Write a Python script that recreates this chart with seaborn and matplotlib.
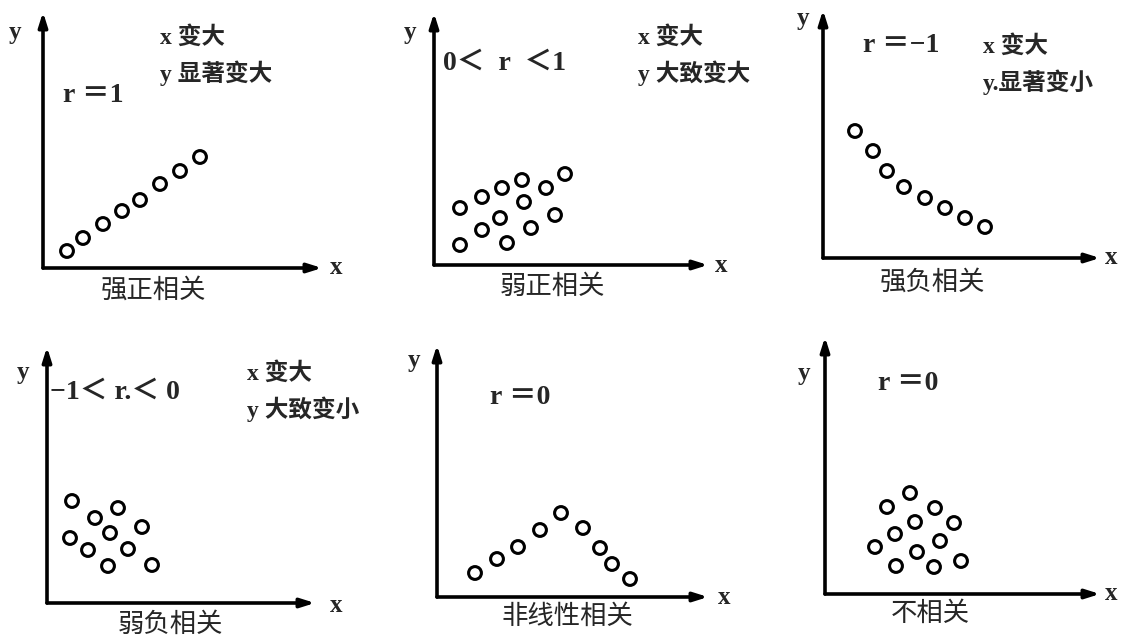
import matplotlib
matplotlib.use("Agg")
import matplotlib.pyplot as plt
import seaborn as sns

W, H = 1126, 638

# point positions (units: px from the origin)
strong_pos_x = [24, 40, 60, 79, 97, 117, 137, 157]
strong_pos_y = [17, 30, 44, 57, 68, 84, 97, 111]

weak_pos_x = [26, 48, 73, 66, 97, 121, 26, 48, 68, 88, 112, 131, 90]
weak_pos_y = [20, 35, 22, 47, 37, 50, 57, 68, 77, 85, 77, 91, 63]

strong_neg_x = [32, 50, 64, 81, 102, 122, 142, 162]
strong_neg_y = [127, 107, 87, 71, 60, 50, 40, 31]

weak_neg_x = [25, 48, 71, 95, 23, 63, 41, 81, 61, 105]
weak_neg_y = [102, 85, 95, 76, 65, 70, 53, 54, 37, 38]

nonlin_x = [38, 60, 81, 103, 124, 146, 163, 175, 193]
nonlin_y = [24, 38, 50, 67, 84, 69, 49, 33, 18]

nocorr_x = [85, 62, 110, 90, 129, 70, 115, 50, 92, 71, 109, 136]
nocorr_y = [101, 87, 86, 72, 71, 60, 53, 47, 42, 28, 27, 33]

titles = ["强正相关", "弱正相关", "强负相关", "弱负相关", "非线性相关", "不相关"]
r_labels = ["r ＝1", "0＜  r  ＜1", "r ＝−1", "−1＜ r.＜ 0", "r ＝0", "r ＝0"]
notes = [["x 变大", "y 显著变大"], ["x 变大", "y 大致变大"], ["x 变大", "y.显著变小"],
         ["x 变大", "y 大致变小"], [], []]

series = [(strong_pos_x, strong_pos_y), (weak_pos_x, weak_pos_y),
          (strong_neg_x, strong_neg_y), (weak_neg_x, weak_neg_y),
          (nonlin_x, nonlin_y), (nocorr_x, nocorr_y)]

# panel frames in pixels: origin x, origin y, x arrow end, y arrow top
frames = [(43, 268, 322, 12), (434, 265, 708, 13), (823, 258, 1100, 10),
          (47, 603, 315, 347), (437, 597, 708, 345), (825, 594, 1100, 337)]

# text anchors in pixels
ylab_pos = [(9, 32), (404, 32), (797, 18), (17, 372), (408, 361), (798, 374)]
xlab_pos = [(330, 267), (715, 265), (1105, 258), (330, 605), (718, 597), (1105, 593)]
r_pos = [(63, 95), (443, 63), (863, 46), (50, 392), (490, 398), (878, 383)]
note_pos = [(160, 37), (638, 37), (983, 46), (247, 373), (0, 0), (0, 0)]
title_pos = [(153, 290), (552, 287), (932, 282), (170, 625), (567, 617), (930, 614)]

sns.set_theme(style="white")
fams = ["Liberation Serif", "Noto Sans CJK SC", "DejaVu Sans"]
plt.rcParams["font.family"] = fams

fig = plt.figure(figsize=(W / 100, H / 100), dpi=100)
fig.patch.set_facecolor("white")


def fx(px):
    return px / W


def fy(py):
    return 1 - py / H


for i, (xs, ys) in enumerate(series):
    ox, oy, xe, yt = frames[i]
    ax = fig.add_axes([fx(ox), fy(oy), (xe - ox) / W, (oy - yt) / H])
    ax.set_xlim(0, xe - ox)
    ax.set_ylim(0, oy - yt)
    sns.scatterplot(x=xs, y=ys, ax=ax, marker="o", s=85, facecolor="none",
                    edgecolor="black", linewidth=2.2, zorder=3)
    for s in ax.spines.values():
        s.set_visible(False)
    ax.set_xticks([])
    ax.set_yticks([])
    ax.set_facecolor("none")
    arrow = dict(arrowstyle="-|>,head_length=0.7,head_width=0.22", lw=2.6,
                 color="black", shrinkA=0, shrinkB=0)
    ax.annotate("", xy=(1, 0), xytext=(0, 0), xycoords="axes fraction", arrowprops=arrow)
    ax.annotate("", xy=(0, 1), xytext=(0, 0), xycoords="axes fraction", arrowprops=arrow)

    fig.text(fx(ylab_pos[i][0]), fy(ylab_pos[i][1]), "y", fontsize=18, fontweight="bold",
             ha="left", va="center", family=fams)
    fig.text(fx(xlab_pos[i][0]), fy(xlab_pos[i][1]), "x", fontsize=18, fontweight="bold",
             ha="left", va="center", family=fams)
    fig.text(fx(r_pos[i][0]), fy(r_pos[i][1]), r_labels[i], fontsize=20, fontweight="bold",
             ha="left", va="center", family=fams)
    for k, line in enumerate(notes[i]):
        fig.text(fx(note_pos[i][0]), fy(note_pos[i][1] + k * 36), line, fontsize=17,
                 fontweight="bold", ha="left", va="center", family=fams)
    fig.text(fx(title_pos[i][0]), fy(title_pos[i][1]), titles[i], fontsize=19,
             ha="center", va="center", family=fams)

fig.savefig("out.png", dpi=100, facecolor="white")
